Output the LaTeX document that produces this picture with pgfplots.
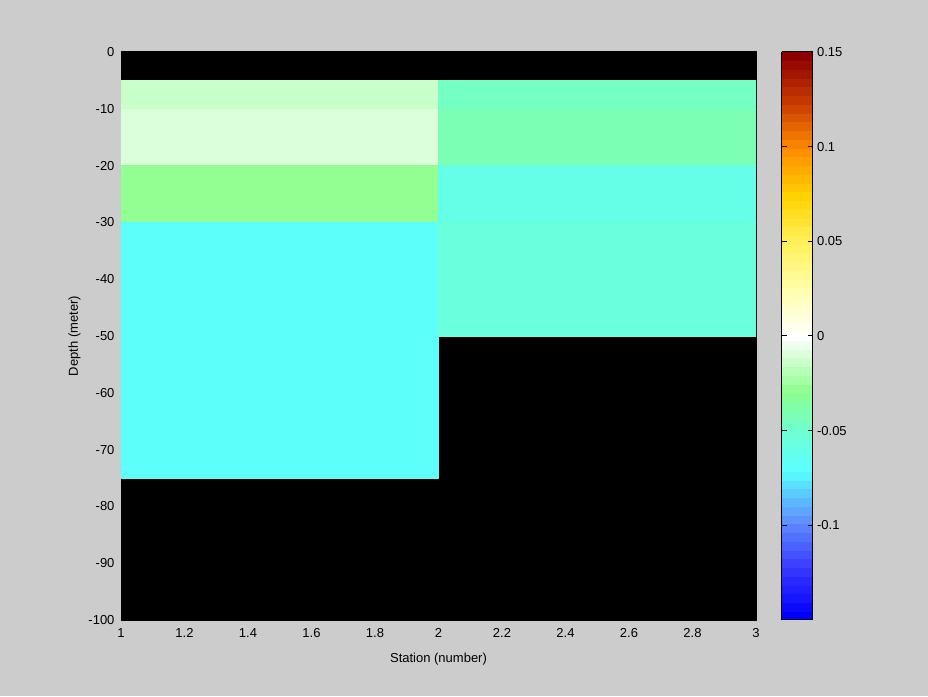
\documentclass[border=0pt]{standalone}
\usepackage{fontspec}
\setmainfont{Liberation Sans}
\usepackage{pgfplots}
\pgfplotsset{compat=1.18}
\usepgfplotslibrary{patchplots}
\definecolor{bg}{RGB}{204,204,204}
\pgfplotsset{colormap={base}{rgb255(0cm)=(0,0,255) rgb255(2.5cm)=(55,55,255) rgb255(5cm)=(95,140,255) rgb255(6.5cm)=(90,200,255) rgb255(7.75cm)=(90,255,255) rgb255(10cm)=(112,255,208) rgb255(12cm)=(140,255,140) rgb255(15cm)=(255,255,255) rgb255(17.5cm)=(255,255,170) rgb255(20cm)=(255,240,90) rgb255(22.5cm)=(255,210,0) rgb255(25cm)=(255,140,0) rgb255(27.5cm)=(200,60,0) rgb255(30cm)=(140,0,0)}}
\pgfplotsset{colormap={disc}{samples of colormap=(65 of base)}}
\newcommand{\tf}{\fontsize{13}{15}\selectfont}
\begin{document}
\begin{tikzpicture}
\fill[bg] (0pt,0pt) rectangle (928pt,696pt);
\begin{axis}[
  at={(121pt,76pt)}, anchor=south west,
  scale only axis, width=635pt, height=568pt,
  xmin=1, xmax=3, ymin=-100, ymax=0,
  xtick={1,1.2,1.4,1.6,1.8,2,2.2,2.4,2.6,2.8,3},
  ytick={-100,-90,-80,-70,-60,-50,-40,-30,-20,-10,0},
  axis background/.style={fill=black},
  tick align=inside, major tick length=0pt,
  axis line style={line width=1pt},
  /pgf/number format/assume math mode=true,
  tick label style={font=\tf},
  xticklabel style={yshift=-5pt},
  yticklabel style={xshift=-3pt},
  label style={font=\tf},
  xlabel style={yshift=-8pt},
  ylabel style={yshift=1pt},
  xlabel={Station (number)}, ylabel={Depth (meter)},
  colormap name=disc, colormap access=piecewise constant,
  point meta min=-0.15, point meta max=0.15,
  colorbar,
  colorbar style={
    at={(parent axis.north east)}, anchor=north west, xshift=17pt,
    width=31pt, height=568pt,
    ytick={-0.1,-0.05,0,0.05,0.1,0.15},
    tick align=inside, major tick length=5pt,
    major tick style={black, line width=1pt},
    ytick pos=both, yticklabel pos=right,
    axis line style={line width=1pt},
    /pgf/number format/assume math mode=true,
    yticklabel style={font=\tf, xshift=1pt, /pgf/number format/fixed, /pgf/number format/precision=2},
  },
]
\addplot[patch, patch type=rectangle, shader=flat, point meta=explicit] table[meta=c] {
x y c
1 -10 -0.012
2 -10 -0.012
2 -5 -0.012
1 -5 -0.012
1 -20 -0.0086
2 -20 -0.0086
2 -10 -0.0086
1 -10 -0.0086
1 -30 -0.027
2 -30 -0.027
2 -20 -0.027
1 -20 -0.027
1 -75 -0.070
2 -75 -0.070
2 -30 -0.070
1 -30 -0.070
2 -10 -0.046
3 -10 -0.046
3 -5 -0.046
2 -5 -0.046
2 -20 -0.041
3 -20 -0.041
3 -10 -0.041
2 -10 -0.041
2 -30 -0.060
3 -30 -0.060
3 -20 -0.060
2 -20 -0.060
2 -50 -0.054
3 -50 -0.054
3 -30 -0.054
2 -30 -0.054
};
\end{axis}
\end{tikzpicture}
\end{document}
